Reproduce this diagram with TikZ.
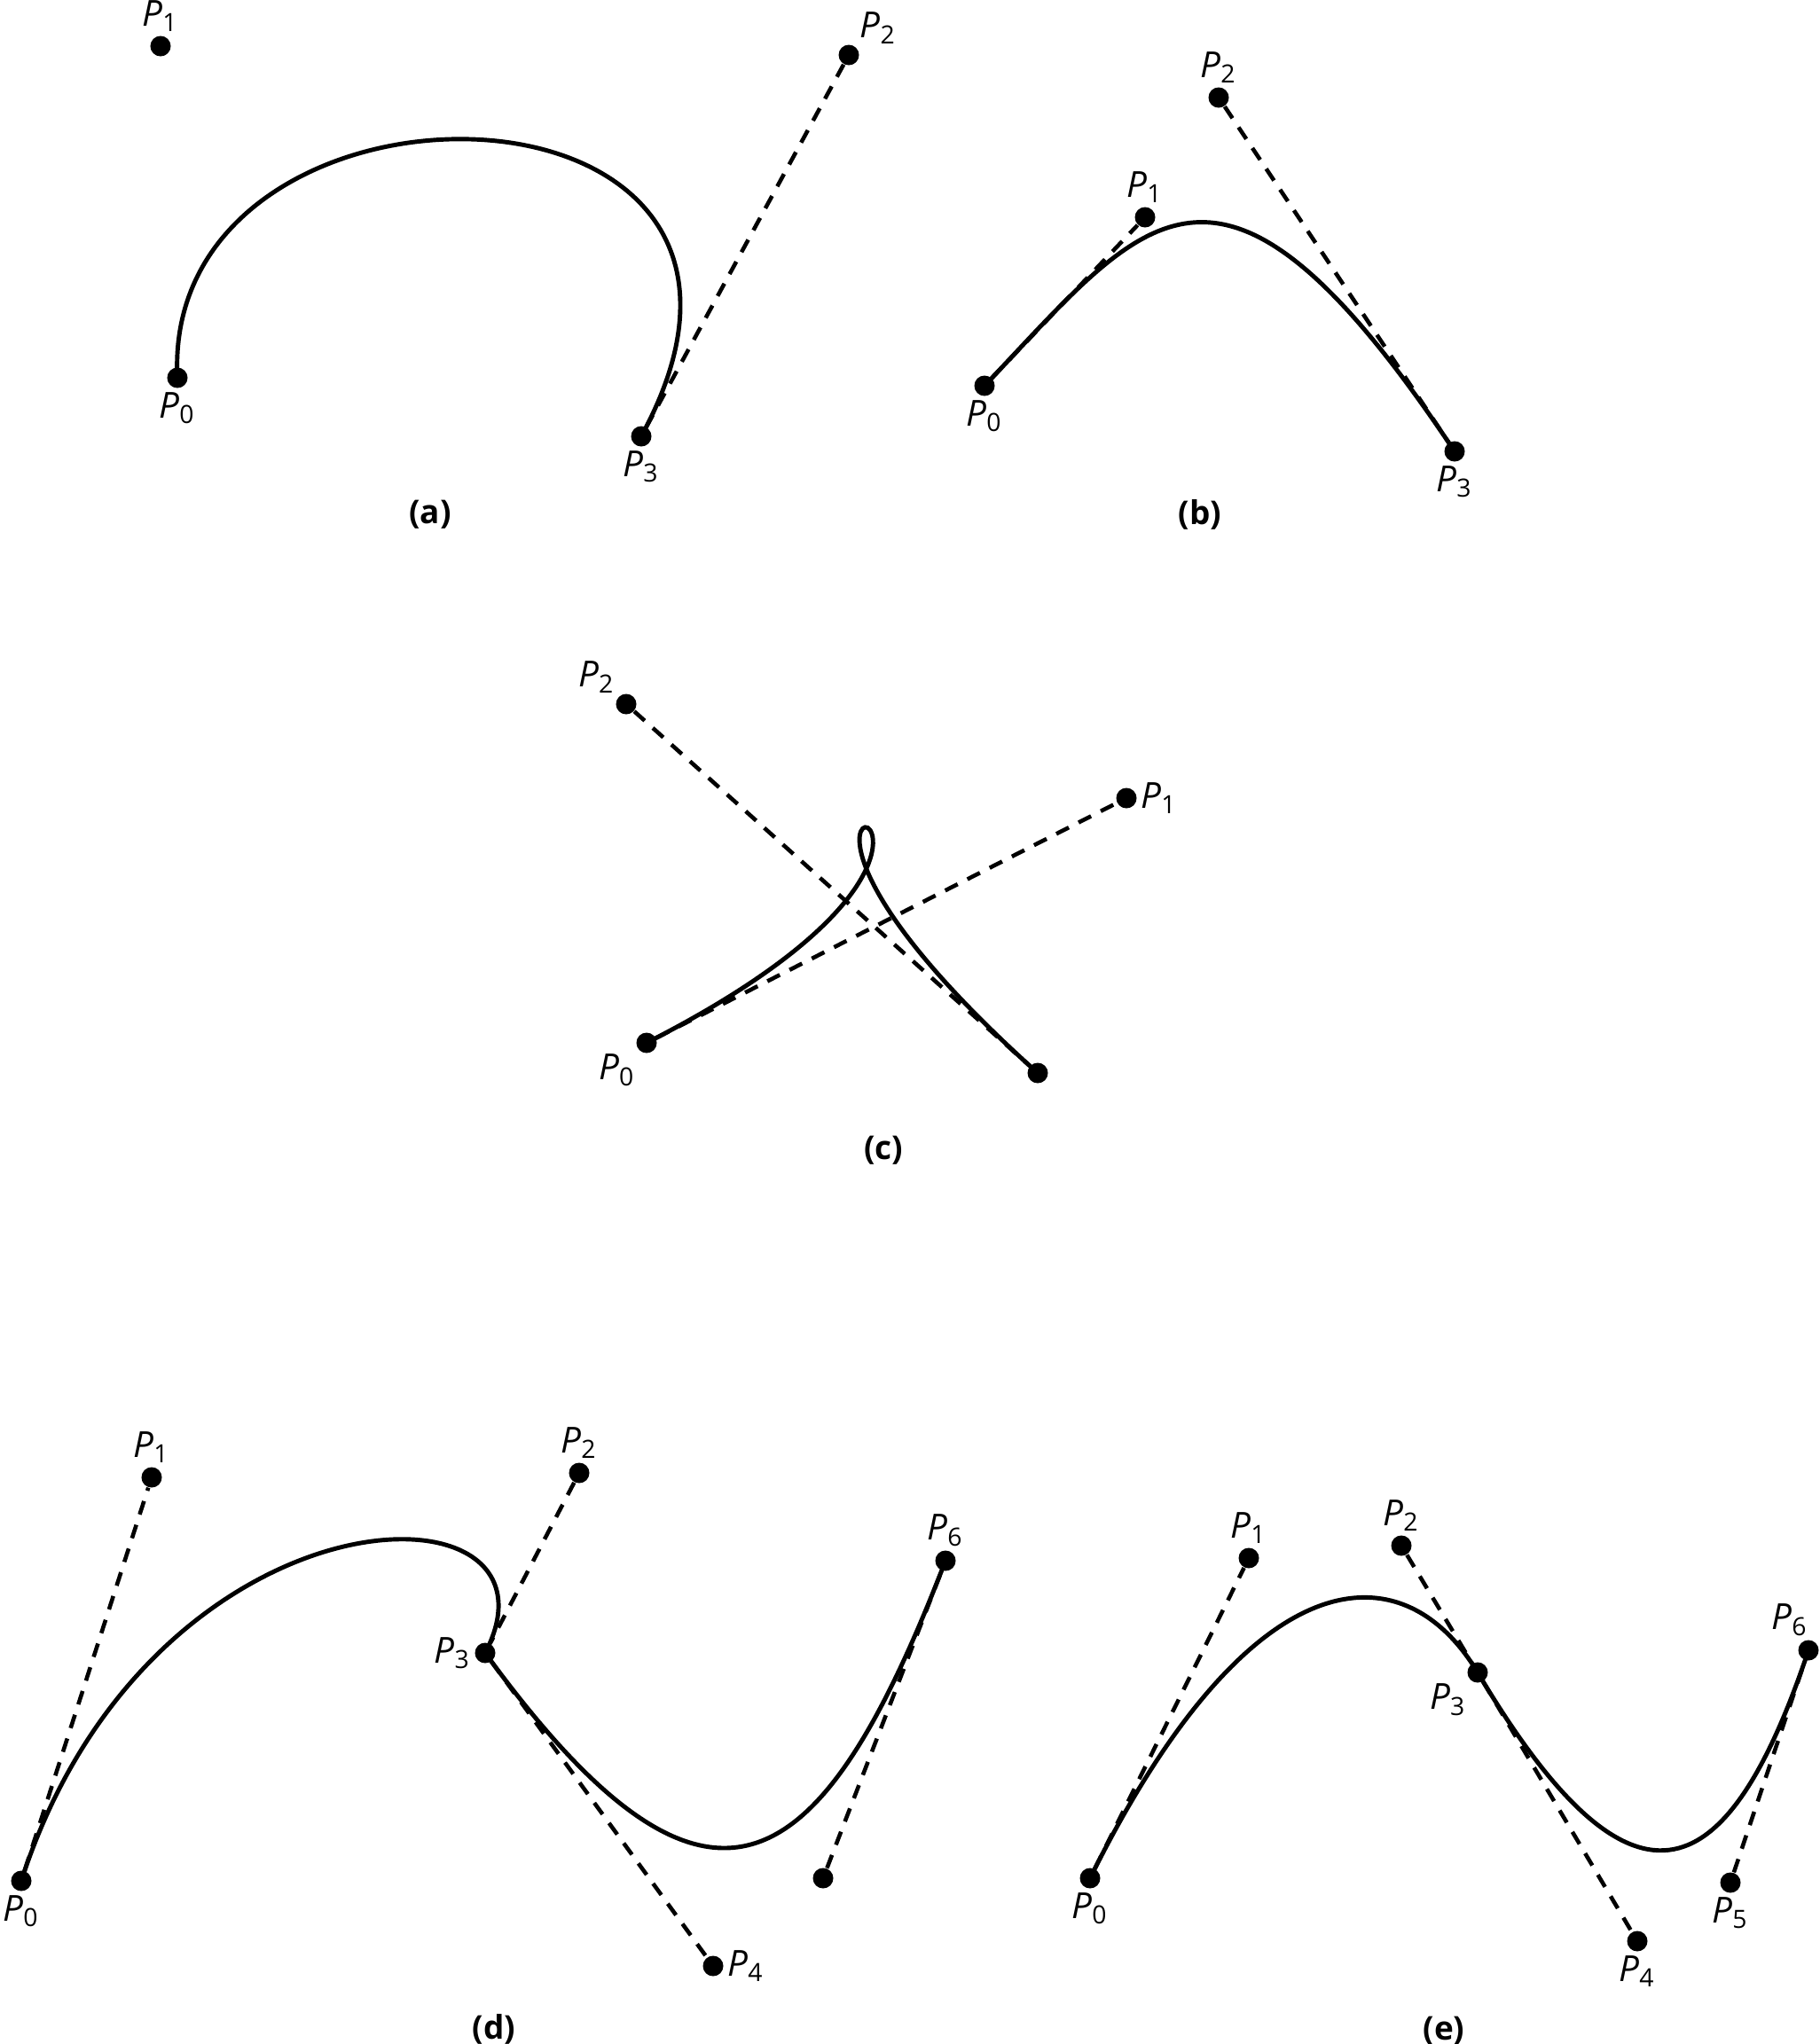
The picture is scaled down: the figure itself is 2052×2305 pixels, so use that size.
\documentclass[tikz,border=0pt]{standalone}
\usepackage{fontspec}
\setmainfont{Open Sans}
\usepackage{tikz}
\usetikzlibrary{positioning}
\newcommand{\pl}[1]{\textit{P}\textsubscript{#1}}

\begin{document}
\begin{tikzpicture}[
    x=0.01cm, y=-0.01cm,
    pt/.style={circle, fill=black, inner sep=0pt, minimum size=0.23cm},
    lbl/.style={inner sep=1pt, font=\fontsize{11.5}{13}\selectfont},
    curve/.style={line width=1.4pt},
    ctrl/.style={line width=1.3pt, dash pattern=on 4.5pt off 3.5pt},
    panelcap/.style={font=\bfseries\fontsize{10.5}{12}\selectfont}
]
\useasboundingbox (0,0) rectangle (2052,2305);

% Panel (a)
\node[pt, label={[lbl]above:\pl{1}}] (a1) at (181,52) {};
\node[pt, label={[lbl]above right=-2pt:\pl{2}}] (a2) at (957,62) {};
\node[pt, label={[lbl]below:\pl{0}}] (a0) at (200,426) {};
\node[pt, label={[lbl]below:\pl{3}}] (a3) at (723,492) {};
\draw[curve] (a0.center) .. controls (a1.center) and (a2.center) .. (a3.center);
\draw[ctrl] (a2) -- (a3);
\node[panelcap] (capa) at (485,580) {(a)};

% Panel (b)
\node[pt, label={[lbl]below:\pl{0}}] (b0) at (1110,435) {};
\node[pt, label={[lbl]above:\pl{1}}] (b1) at (1291,245) {};
\node[pt, label={[lbl]above:\pl{2}}] (b2) at (1374,110) {};
\node[pt, label={[lbl]below:\pl{3}}] (b3) at (1640,509) {};
\draw[curve] (b0.center) .. controls (b1.center) and (b2.center) .. (b3.center);
\draw[ctrl] (b0) -- (b1);
\draw[ctrl] (b2) -- (b3);
\node[panelcap] (capb) at (1353,580) {(b)};

% Panel (c)
\node[pt, label={[lbl]below left=-2pt:\pl{0}}] (c0) at (729,1176) {};
\node[pt, label={[lbl]right:\pl{1}}] (c1) at (1270,900) {};
\node[pt, label={[lbl]above left=-2pt:\pl{2}}] (c2) at (706,794) {};
\node[pt] (c3) at (1170,1210) {};
\draw[curve] (c0.center) .. controls (c1.center) and (c2.center) .. (c3.center);
\draw[ctrl] (c0) -- (c1);
\draw[ctrl] (c2) -- (c3);
\node[panelcap] (capc) at (996,1297) {(c)};

% Panel (d)
\node[pt, label={[lbl]below:\pl{0}}] (d0) at (24,2121) {};
\node[pt, label={[lbl]above:\pl{1}}] (d1) at (171,1666) {};
\node[pt, label={[lbl]above:\pl{2}}] (d2) at (653,1661) {};
\node[pt, label={[lbl]left:\pl{3}}] (d3) at (547,1864) {};
\node[pt, label={[lbl]right:\pl{4}}] (d4) at (804,2217) {};
\node[pt] (d5) at (928,2118) {};
\node[pt, label={[lbl]above:\pl{6}}] (d6) at (1066,1760) {};
\draw[curve] (d0.center) .. controls (d1.center) and (d2.center) .. (d3.center)
    .. controls (d4.center) and (d5.center) .. (d6.center);
\draw[ctrl] (d0) -- (d1);
\draw[ctrl] (d2) -- (d3) -- (d4);
\draw[ctrl] (d5) -- (d6);
\node[panelcap] (capd) at (557,2288) {(d)};

% Panel (e)
\node[pt, label={[lbl]below:\pl{0}}] (e0) at (1229,2118) {};
\node[pt, label={[lbl]above:\pl{1}}] (e1) at (1408,1757) {};
\node[pt, label={[lbl]above:\pl{2}}] (e2) at (1580,1743) {};
\node[pt, label={[lbl]below left=-2pt:\pl{3}}] (e3) at (1666,1886) {};
\node[pt, label={[lbl]below:\pl{4}}] (e4) at (1846,2189) {};
\node[pt, label={[lbl]below:\pl{5}}] (e5) at (1951,2123) {};
\node[pt, label={[lbl, xshift=-6pt]above:\pl{6}}] (e6) at (2039,1861) {};
\draw[curve] (e0.center) .. controls (e1.center) and (e2.center) .. (e3.center)
    .. controls (e4.center) and (e5.center) .. (e6.center);
\draw[ctrl] (e0) -- (e1);
\draw[ctrl] (e2) -- (e3) -- (e4);
\draw[ctrl] (e5) -- (e6);
\node[panelcap] (cape) at (1628,2290) {(e)};

\end{tikzpicture}
\end{document}
